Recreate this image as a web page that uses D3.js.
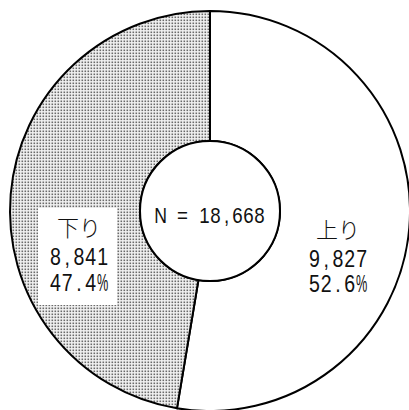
<!DOCTYPE html>
<html><head><meta charset="utf-8">
<script src="https://cdn.jsdelivr.net/npm/d3@7"></script>
<style>body{margin:0;background:#fff}svg{display:block}</style>
</head><body>
<script>
const categories = ["上り", "下り"];
const counts = [9827, 8841];
const countLabels = ["9,827", "8,841"];
const percentLabels = ["52.6%", "47.4%"];
const totalLabel = "N = 18,668";

const W = 409, H = 410;
const cx = 210, cy = 211, rOuter = 200, rInner = 70;

const svg = d3.select("body").append("svg").attr("width", W).attr("height", H);
const defs = svg.append("defs");
const pat = defs.append("pattern").attr("id", "dots").attr("patternUnits", "userSpaceOnUse")
  .attr("width", 3).attr("height", 3);
pat.append("rect").attr("width", 3).attr("height", 3).attr("fill", "#f2f2f2");
pat.append("rect").attr("x", 0.5).attr("y", 0.5).attr("width", 1.6).attr("height", 1.6).attr("fill", "#6a6a6a");

const fills = ["#ffffff", "url(#dots)"];

const pie = d3.pie().sort(null).value(d => d)(counts);
const arc = d3.arc().innerRadius(rInner).outerRadius(rOuter);

const g = svg.append("g").attr("transform", `translate(${cx},${cy})`);
g.selectAll("path").data(pie).join("path")
  .attr("d", arc).attr("fill", (d, i) => fills[i])
  .attr("stroke", "#000").attr("stroke-width", 2).attr("stroke-linejoin", "miter");

g.append("circle").attr("r", rInner).attr("fill", "#fff").attr("stroke", "#000").attr("stroke-width", 2);

function monoText(sel, str, x, y, adv, size) {
  const chars = Array.from(str);
  const x0 = x - (chars.length - 1) / 2 * adv;
  const grp = sel.append("g");
  chars.forEach((c, i) => {
    if (c === " ") return;
    const sx = c === "%" ? 0.55 : (c === "N" ? 0.8 : 0.85);
    grp.append("text")
      .attr("transform", `translate(${(x0 + i * adv).toFixed(2)},${y}) scale(${sx},1)`)
      .attr("text-anchor", "middle")
      .attr("font-family", "'Liberation Sans', Arial, sans-serif")
      .attr("font-size", size)
      .attr("fill", "#111")
      .text(c);
  });
}

monoText(svg, totalLabel, 210, 223, 11, 22);

const labelX = [338, 79];
const baseY = [[238, 267, 292], [236, 265, 291]];

svg.append("rect").attr("x", 38).attr("y", 208).attr("width", 79).attr("height", 97).attr("fill", "#fff");

categories.forEach((c, i) => {
  svg.append("text").attr("x", labelX[i]).attr("y", baseY[i][0])
    .attr("text-anchor", "middle")
    .attr("font-family", "'Noto Sans CJK JP', sans-serif")
    .attr("font-weight", 300)
    .attr("font-size", 22).attr("fill", "#111").text(c);
  monoText(svg, countLabels[i], labelX[i], baseY[i][1], 11.8, 23);
  monoText(svg, percentLabels[i], labelX[i], baseY[i][2], 11.8, 23);
});
</script>
</body></html>
